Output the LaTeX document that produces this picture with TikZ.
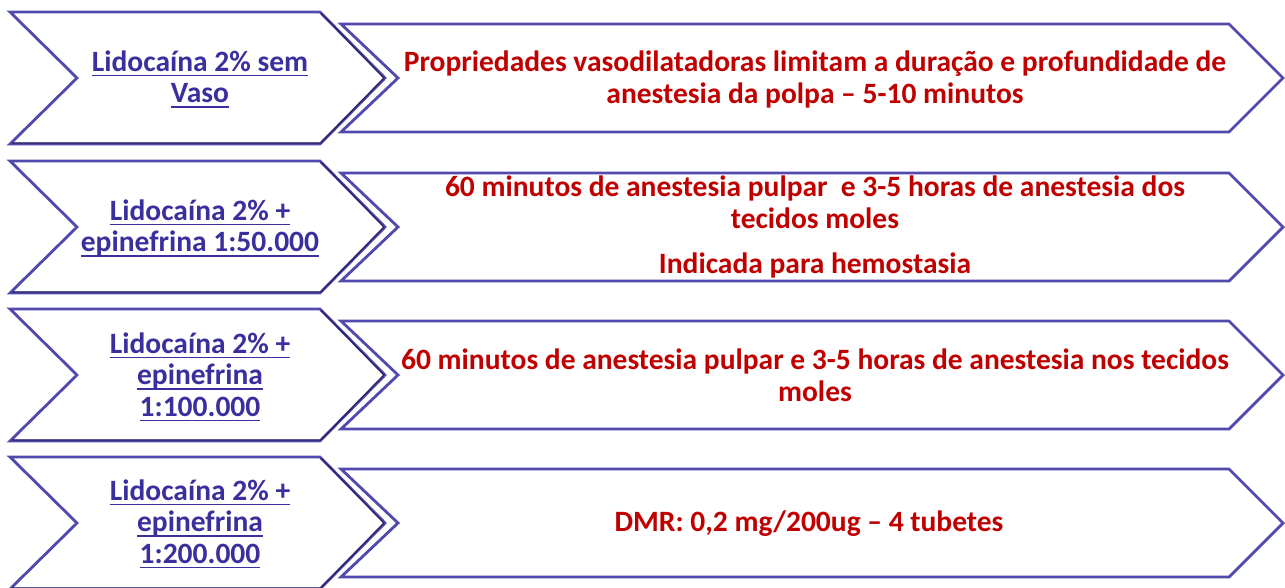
\documentclass[tikz,border=0pt]{standalone}
\usepackage{fontspec}
\setmainfont{Carlito}
\definecolor{chevline}{HTML}{5149AE}
\definecolor{chevdark}{HTML}{2A2460}
\definecolor{lidotext}{HTML}{3B2F9E}
\definecolor{efeito}{HTML}{C00000}
\newcommand\sob[1]{\setbox0\hbox{#1}\rlap{\rule[-5pt]{\wd0}{1.6pt}}\box0}
\tikzset{
  chevron/.style={draw=chevline, line width=2.8pt, line join=miter, fill=white},
  lidolabel/.style={text=lidotext, font=\bfseries\fontsize{29.5}{31.5}\selectfont, align=center, inner sep=0pt},
  efeitolabel/.style={text=efeito, font=\bfseries\fontsize{29.5}{32}\selectfont, align=center, inner sep=0pt}
}

\begin{document}
\begin{tikzpicture}[x=1pt,y=-1pt]
\useasboundingbox (0,0) rectangle (1285,587);
% chevrons, one row each
\foreach \m in {78,227,375,523}{
  \draw[chevron] (10,\m-66)--(320,\m-66)--(385,\m)--(320,\m+66)--(10,\m+66)--(77,\m)--cycle;
  \draw[chevdark, line width=1.2pt] (321,\m-65)--(384,\m)--(321,\m+65)--(12,\m+65);
  \draw[chevron] (341,\m-54)--(1229,\m-54)--(1283,\m)--(1229,\m+54)--(341,\m+54)--(398,\m)--cycle;
}

% left labels
\node[lidolabel] (lido1) at (200,79) {\sob{Lidocaína 2\% sem}\\\sob{Vaso}};
\node[lidolabel] (lido2) at (200,228) {\sob{Lidocaína 2\% +}\\\sob{epinefrina 1:50.000}};
\node[lidolabel] (lido3) at (200,377) {\sob{Lidocaína 2\% +}\\\sob{epinefrina}\\\sob{1:100.000}};
\node[lidolabel] (lido4) at (200,524) {\sob{Lidocaína 2\% +}\\\sob{epinefrina}\\\sob{1:200.000}};

% right labels
\node[efeitolabel] (efeito1) at (815,79) {Propriedades vasodilatadoras limitam a duração e profundidade de\\anestesia da polpa – 5-10 minutos};
\node[efeitolabel] (efeito2) at (815,227) {60 minutos de anestesia pulpar \ e 3-5 horas de anestesia dos\\tecidos moles\\[13pt]Indicada para hemostasia};
\node[efeitolabel] (efeito3) at (815,375) {60 minutos de anestesia pulpar e 3-5 horas de anestesia nos tecidos\\moles};
\node[efeitolabel] (efeito4) at (809,524) {DMR: 0,2 mg/200ug – 4 tubetes};
\end{tikzpicture}
\end{document}
